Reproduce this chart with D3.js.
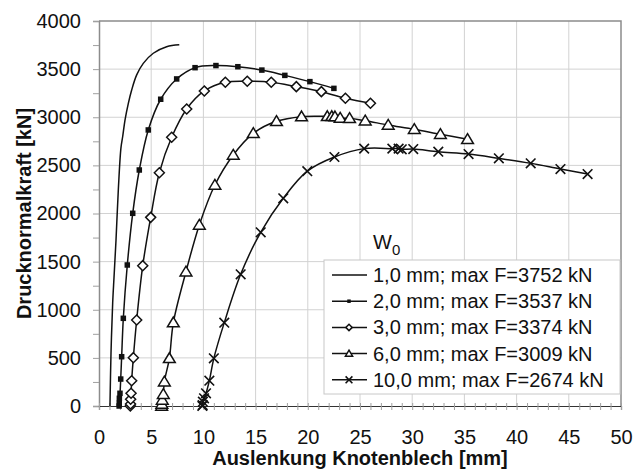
<!DOCTYPE html>
<html>
<head>
<meta charset="utf-8">
<script src="https://d3js.org/d3.v7.min.js"></script>
<style>
  body { margin: 0; background: #fff; }
  text { font-family: Arial, "Liberation Sans", sans-serif; fill: #111; }
</style>
</head>
<body>
<script type="text/javascript">
// values
let w0Labels = ["1,0 mm; max F=3752 kN", "2,0 mm; max F=3537 kN", "3,0 mm; max F=3374 kN",
                "6,0 mm; max F=3009 kN", "10,0 mm; max F=2674 kN"];
let markerTypes = ["none", "square", "diamond", "triangle", "cross"];

let x1 = [1.05, 1.15, 1.31, 1.44, 1.63, 1.85, 2.1, 2.27, 2.49, 2.81, 3.13, 3.61, 4.24, 5.2, 6.48, 7.69];
let f1 = [0, 550, 1070, 1340, 1725, 2245, 2680, 2800, 2970, 3145, 3283, 3440, 3560, 3665, 3733, 3752];

let x2 = [1.93, 1.94, 1.95, 2.01, 2.08, 2.17, 2.33, 2.71, 3.23, 3.86, 4.72, 5.91, 7.44, 9.2, 11.2, 13.3, 15.6, 17.8, 20.2, 22.5];
let f2 = [0, 28, 80, 132, 280, 512, 911, 1465, 2002, 2452, 2868, 3187, 3398, 3515, 3537, 3525, 3490, 3435, 3370, 3300];

let x3 = [3.0, 3.02, 3.03, 3.07, 3.13, 3.29, 3.61, 4.19, 4.95, 5.78, 6.96, 8.4, 10.09, 12.1, 14.2, 16.5, 18.9, 21.3, 23.6, 26.0];
let f3 = [0, 21, 70, 132, 263, 502, 894, 1458, 1960, 2424, 2792, 3086, 3273, 3363, 3374, 3363, 3318, 3266, 3197, 3145];

let x4 = [6.0, 6.02, 6.06, 6.16, 6.26, 6.74, 7.12, 8.33, 9.61, 11.1, 12.86, 14.78, 17.0, 19.4, 21.87, 22.3, 22.6, 23.1, 24.0, 25.5, 27.7, 30.2, 32.7, 35.3];
let f4 = [0, 21, 62, 122, 252, 495, 866, 1395, 1881, 2296, 2608, 2833, 2958, 3006, 3009, 3009, 3006, 2992, 2989, 2964, 2920, 2875, 2823, 2771];

let x5 = [9.9, 9.93, 9.95, 10.06, 10.25, 10.57, 11.0, 12.0, 13.57, 15.49, 17.65, 19.95, 22.55, 25.4, 28.1, 28.7, 29.0, 30.1, 32.5, 35.4, 38.3, 41.35, 44.2, 46.8];
let f5 = [0, 10, 45, 80, 132, 263, 495, 866, 1368, 1805, 2158, 2440, 2587, 2674, 2674, 2674, 2667, 2670, 2642, 2618, 2573, 2521, 2462, 2410];

let xTicks = d3.range(0, 51, 5);
let yTicks = d3.range(0, 4001, 500);

let seriesX = [x1, x2, x3, x4, x5];
let seriesF = [f1, f2, f3, f4, f5];

let width = 635, height = 469;
let pLeft = 99, pRight = 621, pTop = 21, pBottom = 406;

let svg = d3.select("body").append("svg")
    .attr("width", width)
    .attr("height", height);

let x = d3.scaleLinear().domain([0, 50]).range([pLeft, pRight]);
let y = d3.scaleLinear().domain([0, 4000]).range([pBottom, pTop]);

// grid
svg.append("g").selectAll("line")
    .data(xTicks.filter(d => d > 0 && d < 50))
    .join("line")
    .attr("x1", d => x(d)).attr("x2", d => x(d))
    .attr("y1", pTop).attr("y2", pBottom)
    .attr("stroke", "#d2d2d2").attr("stroke-width", 1);

svg.append("g").selectAll("line")
    .data(yTicks.filter(d => d > 0 && d < 4000))
    .join("line")
    .attr("x1", pLeft).attr("x2", pRight)
    .attr("y1", d => y(d)).attr("y2", d => y(d))
    .attr("stroke", "#d2d2d2").attr("stroke-width", 1);

// frame (top/right)
svg.append("path")
    .attr("d", `M${pLeft},${pTop}H${pRight}V${pBottom}`)
    .attr("fill", "none").attr("stroke", "#8c8c8c").attr("stroke-width", 1.5);

// left axis
let yAxis = d3.axisLeft(y)
    .tickValues(d3.range(0, 4001, 250))
    .tickSize(6)
    .tickPadding(12)
    .tickFormat(d => d % 500 === 0 ? d : "");
let gy = svg.append("g").attr("transform", `translate(${pLeft},0)`).call(yAxis);
gy.select(".domain").attr("stroke", "#8c8c8c").attr("stroke-width", 1.5);
gy.selectAll(".tick line").attr("stroke", "#a0a0a0");
gy.selectAll(".tick text").style("font-size", "20px").attr("fill", "#111");

// bottom axis
let xAxis = d3.axisBottom(x)
    .tickValues(d3.range(0, 51, 1))
    .tickSize(4)
    .tickPadding(20)
    .tickFormat(d => d % 5 === 0 ? d : "");
let gx = svg.append("g").attr("transform", `translate(0,${pBottom})`).call(xAxis);
gx.select(".domain").attr("stroke", "#333").attr("stroke-width", 1.2);
gx.selectAll(".tick line").attr("stroke", "#a0a0a0").attr("y1", -3);
gx.selectAll(".tick text").style("font-size", "20px").attr("fill", "#111");

// axis titles
svg.append("text")
    .attr("x", (pLeft + pRight) / 2).attr("y", 465)
    .attr("text-anchor", "middle")
    .style("font-size", "20px").style("font-weight", "bold")
    .text("Auslenkung Knotenblech [mm]");

svg.append("text")
    .attr("transform", `translate(31,${(pTop + pBottom) / 2}) rotate(-90)`)
    .attr("text-anchor", "middle")
    .style("font-size", "20px").style("font-weight", "bold")
    .text("Drucknormalkraft [kN]");

// curves
let line = d3.line()
    .x(d => x(d[0])).y(d => y(d[1]))
    .curve(d3.curveCatmullRom.alpha(0.5));

function drawMarker(g, type, cx, cy, s) {
    if (type === "square") {
        g.append("rect").attr("x", cx - s / 2).attr("y", cy - s / 2)
            .attr("width", s).attr("height", s).attr("fill", "#111");
    } else if (type === "diamond") {
        g.append("path")
            .attr("d", `M${cx},${cy - s}L${cx + s},${cy}L${cx},${cy + s}L${cx - s},${cy}Z`)
            .attr("fill", "#fff").attr("stroke", "#111").attr("stroke-width", 1.5);
    } else if (type === "triangle") {
        g.append("path")
            .attr("d", `M${cx},${cy - s}L${cx + s * 1.05},${cy + s * 0.75}L${cx - s * 1.05},${cy + s * 0.75}Z`)
            .attr("fill", "#fff").attr("stroke", "#111").attr("stroke-width", 1.5);
    } else if (type === "cross") {
        g.append("path")
            .attr("d", `M${cx - s},${cy - s}L${cx + s},${cy + s}M${cx - s},${cy + s}L${cx + s},${cy - s}`)
            .attr("fill", "none").attr("stroke", "#111").attr("stroke-width", 1.6);
    }
}

let markerSize = [0, 5.5, 5, 5.6, 4.8];
let legendMarkerSize = [0, 3.5, 3.2, 3.4, 3.4];

seriesX.forEach((xs, i) => {
    let pts = xs.map((v, j) => [v, seriesF[i][j]]);
    let g = svg.append("g");
    g.append("path")
        .attr("d", line(pts))
        .attr("fill", "none")
        .attr("stroke", "#111")
        .attr("stroke-width", 1.5);
    if (markerTypes[i] !== "none") {
        pts.forEach(p => drawMarker(g, markerTypes[i], x(p[0]), y(p[1]), markerSize[i]));
    }
});

// legend
let lg = svg.append("g");
lg.append("rect")
    .attr("x", 324).attr("y", 260).attr("width", 296).attr("height", 134)
    .attr("fill", "#fff").attr("stroke", "#c8c8c8").attr("stroke-width", 1);

let wt = svg.append("text").attr("x", 373).attr("y", 249).style("font-size", "20px");
wt.append("tspan").text("W");
wt.append("tspan").attr("dy", 6).style("font-size", "15px").text("0");

w0Labels.forEach((lab, i) => {
    let cy = 275 + i * 26.2;
    lg.append("line")
        .attr("x1", 332).attr("x2", 367).attr("y1", cy).attr("y2", cy)
        .attr("stroke", "#111").attr("stroke-width", 1.5);
    if (markerTypes[i] !== "none") drawMarker(lg, markerTypes[i], 349, cy, legendMarkerSize[i]);
    lg.append("text")
        .attr("x", 373).attr("y", cy + 7)
        .style("font-size", "20px")
        .text(lab);
});
</script>
</body>
</html>
